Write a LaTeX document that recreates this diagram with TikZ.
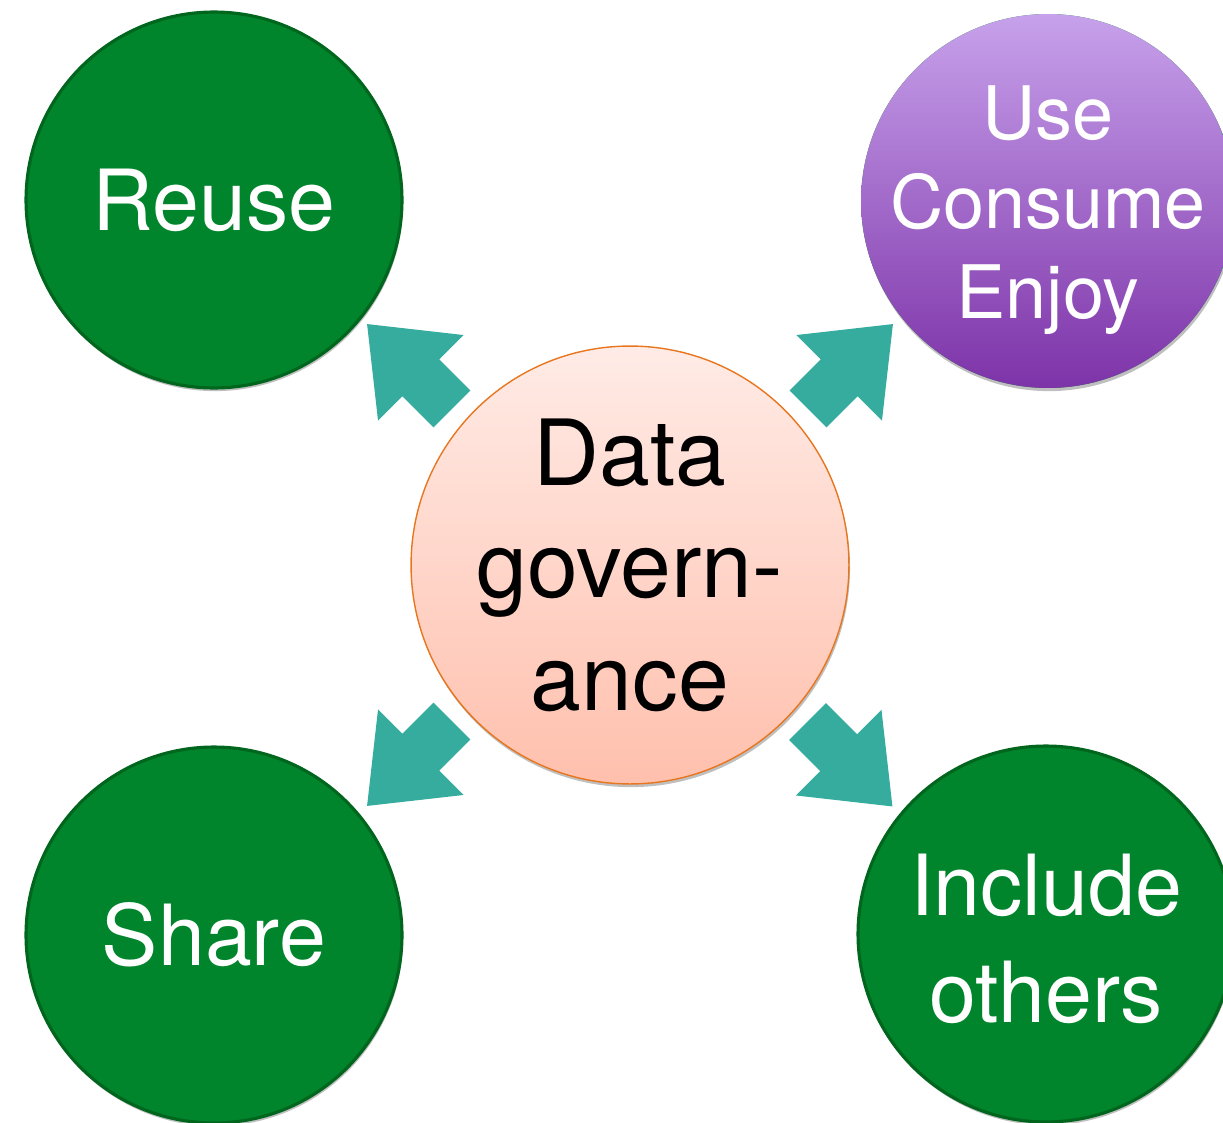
\documentclass[tikz,border=0pt]{standalone}
\usepackage{fontspec}
\setmainfont{TeX Gyre Heros}
\usetikzlibrary{shadows,calc}

\definecolor{govgreen}{HTML}{00852C}
\definecolor{govgreenline}{HTML}{00661E}
\definecolor{govteal}{HTML}{36AC9F}
\definecolor{govpurpletop}{HTML}{C7A1EB}
\definecolor{govpurplebot}{HTML}{7D33A8}
\definecolor{govpeachtop}{HTML}{FFEBE6}
\definecolor{govpeachbot}{HTML}{FFC0AD}
\definecolor{govorange}{HTML}{E8761F}

\begin{document}
\begin{tikzpicture}[x=0.02cm, y=0.02cm,
    softshadow/.style={drop shadow={shadow xshift=0.6pt, shadow yshift=-1.8pt, opacity=0.25, fill=black}},
    goal/.style={circle, inner sep=0pt, minimum size=7.52cm, fill=govgreen,
      draw=govgreenline, line width=1.8pt, text=white, align=center,
      font=\fontsize{48}{61}\selectfont, softshadow},
    govarrow/.style={fill=govteal}]
  \path[use as bounding box] (0,0) rectangle (1223,-1122);

  % centre
  \node [circle, inner sep=0pt, minimum size=8.76cm, top color=govpeachtop,
    bottom color=govpeachbot, draw=govorange, line width=0.8pt, align=center,
    font=\fontsize{52}{64}\selectfont, softshadow]
    (dg) at (630,-565) {Data\\govern-\\ance};

  % the four aims
  \node [goal] (reuse) at (214,-200) {Reuse};
  \node [goal] (share) at (214,-935) {Share};
  \node [goal] (incl) at (1046,-934) {};
  \node [text=white, align=center, font=\fontsize{48}{61}\selectfont]
    (incltext) at ($(incl)+(0,-5)$) {Include\\others};
  \node [goal, draw=none, minimum size=7.48cm, top color=govpurpletop,
    bottom color=govpurplebot] (use) at (1048,-201) {};
  \node [text=white, align=center, font=\fontsize{42}{51}\selectfont]
    (usetext) at ($(use)+(0,-9)$) {Use\\Consume\\Enjoy};

  % block arrows out of the centre
  \foreach \ang/\dx/\dy in {135/-220.5/198.5, 45/220.5/198.5,
                            225/-220.5/-198.5, 315/220/-199}
    \fill [govarrow, shift={($(dg)+(\dx,\dy)$)}, rotate=\ang]
      (-60,-26) -- (-16,-26) -- (-16,-60.5) -- (60,0)
      -- (-16,60.5) -- (-16,26) -- (-60,26) -- cycle;
\end{tikzpicture}
\end{document}
